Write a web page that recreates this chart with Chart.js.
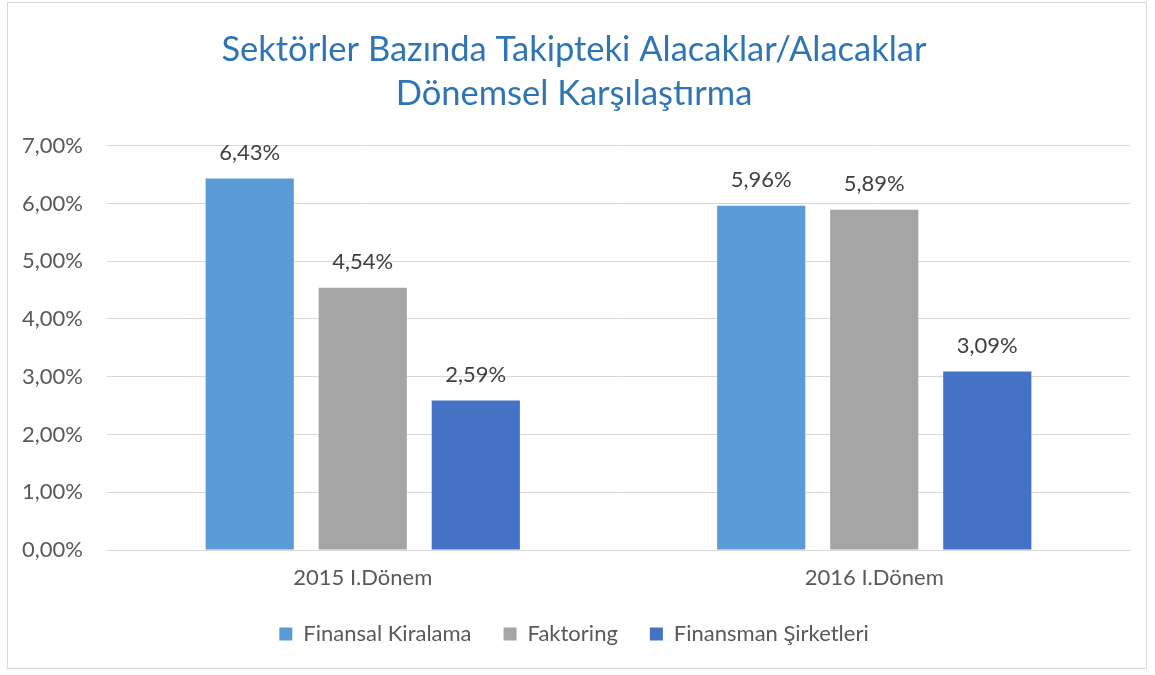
<!DOCTYPE html>
<html>
<head>
<meta charset="utf-8">
<script src="https://cdn.jsdelivr.net/npm/chart.js@4"></script>
<style>
  html, body { margin: 0; padding: 0; background: #fff; }
  #wrap {
    position: absolute; left: 7px; top: 2px;
    width: 1140px; height: 667px;
    border: 1px solid #d9d9d9; box-sizing: border-box;
  }
</style>
</head>
<body>
<div id="wrap"><canvas id="chart"></canvas></div>
<script>
// Chart data
const categories = ["2015 I.Dönem", "2016 I.Dönem"];
const seriesNames = ["Finansal Kiralama", "Faktoring", "Finansman Şirketleri"];
const finansalKiralama = [6.43, 5.96];
const faktoring = [4.54, 5.89];
const finansmanSirketleri = [2.59, 3.09];
const yTicks = [0, 1, 2, 3, 4, 5, 6, 7];

const COLORS = ["#5b9bd5", "#a5a5a5", "#4472c4"];
const FONT = "Lato, 'Open Sans', sans-serif";
const TEXT = "#595959";

const pct = v => v.toFixed(2).replace(".", ",") + "%";

// Value labels above bars
const barLabels = {
  id: "barLabels",
  afterDatasetsDraw(chart) {
    const ctx = chart.ctx;
    ctx.save();
    ctx.font = "22px " + FONT;
    ctx.fillStyle = "#404040";
    ctx.textAlign = "center";
    ctx.textBaseline = "middle";
    chart.data.datasets.forEach((ds, i) => {
      chart.getDatasetMeta(i).data.forEach((bar, j) => {
        ctx.fillText(pct(ds.data[j]), bar.x, bar.y - 26);
      });
    });
    ctx.restore();
  }
};

const series = [finansalKiralama, faktoring, finansmanSirketleri];

new Chart(document.getElementById("chart"), {
  type: "bar",
  data: {
    labels: categories,
    datasets: series.map((data, i) => ({
      label: seriesNames[i],
      data,
      backgroundColor: COLORS[i],
      categoryPercentage: 0.663,
      barPercentage: 0.78,
    })),
  },
  options: {
    responsive: true,
    maintainAspectRatio: false,
    animation: false,
    layout: { padding: { left: 10, right: 16, top: 0, bottom: 13 } },
    plugins: {
      title: {
        display: true,
        text: ["Sektörler Bazında Takipteki Alacaklar/Alacaklar", "Dönemsel Karşılaştırma"],
        color: "#2f75b5",
        font: { family: FONT, size: 34.5, weight: "normal", lineHeight: 1.3 },
        padding: { top: 24, bottom: 29 },
      },
      legend: {
        position: "bottom",
        labels: {
          color: TEXT,
          font: { family: FONT, size: 22 },
          boxWidth: 13,
          boxHeight: 13,
          padding: 32,
        },
      },
      tooltip: { enabled: false },
    },
    scales: {
      x: {
        afterFit: s => { s.height = 41; },
        grid: { display: false, drawTicks: false },
        border: { color: "#d9d9d9" },
        ticks: { color: TEXT, font: { family: FONT, size: 22 }, padding: 15 },
      },
      y: {
        min: 0,
        max: 7,
        afterBuildTicks: s => { s.ticks = yTicks.map(v => ({ value: v })); },
        afterFit: s => { s.width = 89; },
        grid: { color: "#d9d9d9", drawTicks: false },
        border: { display: false },
        ticks: { color: TEXT, font: { family: FONT, size: 22 }, padding: 24, callback: v => pct(v) },
      },
    },
  },
  plugins: [barLabels],
});
</script>
</body>
</html>
